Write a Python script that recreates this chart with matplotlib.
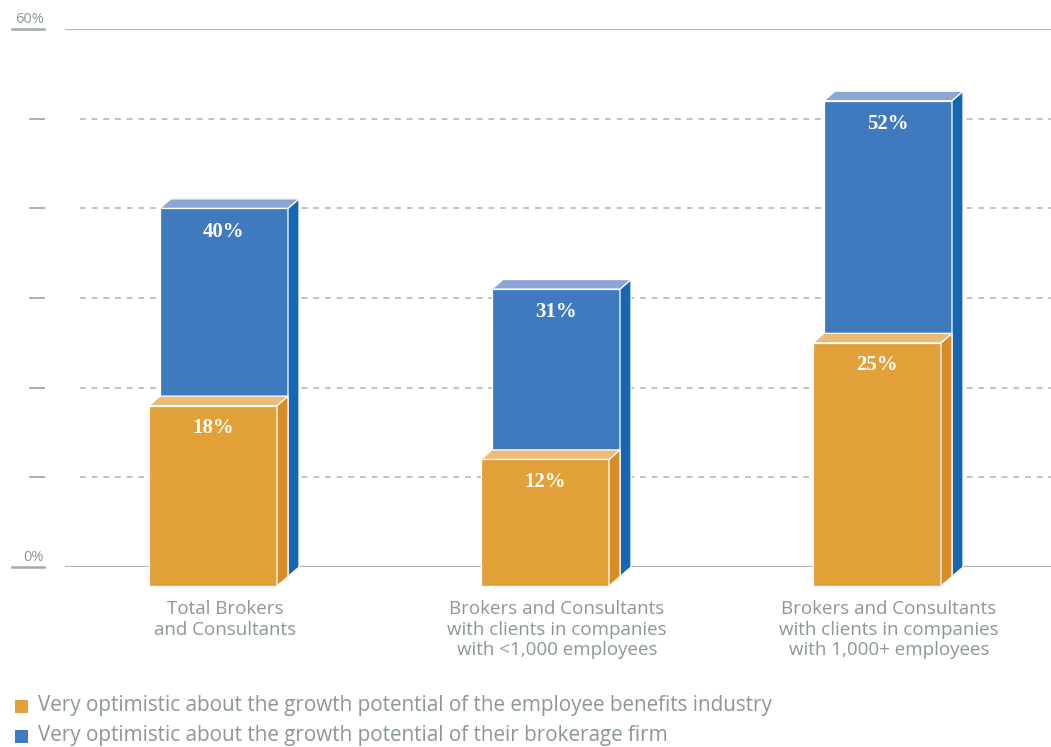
import matplotlib.pyplot as plt
from matplotlib.patches import Polygon
from matplotlib.transforms import blended_transform_factory

categories = ["Total Brokers\nand Consultants",
              "Brokers and Consultants\nwith clients in companies\nwith <1,000 employees",
              "Brokers and Consultants\nwith clients in companies\nwith 1,000+ employees"]
industry = [18, 12, 25]   # orange, front
firm = [40, 31, 52]       # blue, behind
legend_labels = ["Very optimistic about the growth potential of the employee benefits industry",
                 "Very optimistic about the growth potential of their brokerage firm"]

W, H = 1051, 747
fig = plt.figure(figsize=(W / 100, H / 100), dpi=100)
ax = fig.add_axes([65 / W, (H - 567) / H, 1 - 65 / W, (567 - 29) / H])
ax.set_xlim(-148 / 332, (1051 - 213) / 332)
ax.set_ylim(0, 60)
ax.axis("off")

grey = "#8b9894"
line_c = "#b3b9b8"

# pixel -> data helpers
px_x = 1 / 332
px_y = 60 / 538

# gridlines
for v in [10, 20, 30, 40, 50]:
    ax.plot([15 * px_x + ax.get_xlim()[0], ax.get_xlim()[1]], [v, v], color=line_c,
            lw=1.2, ls=(0, (3.5, 3.5)), zorder=0)
for v in [0, 60]:
    ax.plot(ax.get_xlim(), [v, v], color=line_c, lw=1.6, zorder=0, solid_capstyle="butt")

# left-hand tick marks and labels
tr = blended_transform_factory(fig.transFigure, ax.transData)
for v in [10, 20, 30, 40, 50]:
    ax.plot([30 / W, 44 / W], [v, v], color="#a3aba9", lw=1.3, transform=tr, clip_on=False)
for v in [0, 60]:
    ax.plot([12 / W, 44 / W], [v, v], color="#a3aba9", lw=1.8, transform=tr, clip_on=False)
    ax.text(44 / W, v + 6 * px_y, f"{v}%", transform=tr, ha="right", va="baseline",
            color=grey, fontsize=10.5, family="Open Sans")

# 3D-looking bars
w = 128 * px_x
dx = 11 * px_x
dy = 9.5 * px_y
base = -2 * dy

def block(x0, y0, top, front, side, lid):
    x1 = x0 + w
    faces = [
        ([(x0, y0), (x1, y0), (x1, top), (x0, top)], front),
        ([(x1, y0), (x1 + dx, y0 + dy), (x1 + dx, top + dy), (x1, top)], side),
        ([(x0, top), (x0 + dx, top + dy), (x1 + dx, top + dy), (x1, top)], lid),
    ]
    for pts, c in faces:
        ax.add_patch(Polygon(pts, closed=True, facecolor=c, edgecolor="white",
                             lw=0.9, clip_on=False, zorder=3))

for i in range(len(categories)):
    left = i - w / 2
    block(left + dx, base + dy, firm[i], "#3f7abe", "#1467b0", "#8aa5d6")
    block(left, base, industry[i], "#e2a039", "#d78c2a", "#edbb78")
    ax.text(i + dx, firm[i] - 2.6, f"{firm[i]}%", ha="center", va="center",
            color="white", fontsize=15, fontweight="bold", family="Liberation Serif", zorder=5)
    ax.text(i, industry[i] - 2.5, f"{industry[i]}%", ha="center", va="center",
            color="white", fontsize=15, fontweight="bold", family="Liberation Serif", zorder=5)
    ax.text(i + 12 * px_x, -3.7, categories[i], ha="center", va="top", color=grey,
            fontsize=13.5, family="Open Sans", linespacing=1.17)

# legend
for j, (lab, c) in enumerate(zip(legend_labels, ["#e2a039", "#3f7abe"])):
    yc = 1 - (706 + 30 * j) / H
    fig.patches.append(plt.Rectangle((15 / W, yc - 7 / H), 13 / W, 13 / H, facecolor=c,
                                     transform=fig.transFigure, figure=fig))
    fig.text(38 / W, yc, lab, ha="left", va="center", color=grey, fontsize=14.9,
             family="Open Sans")

fig.savefig("out.png", dpi=100)
